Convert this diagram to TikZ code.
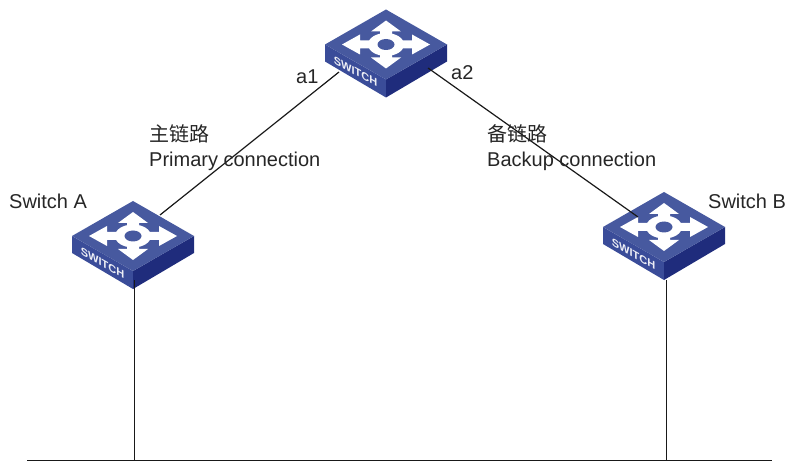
\documentclass[tikz,border=0pt]{standalone}
\usepackage{fontspec}
\setmainfont{Liberation Sans}
\newfontfamily\cjk{Noto Sans CJK SC}[Scale=1.0]
\definecolor{swtop}{HTML}{47599F}
\definecolor{swleft}{HTML}{3A4C99}
\definecolor{swright}{HTML}{1F2C7C}
\definecolor{txtgray}{HTML}{262626}
\tikzset{
  lbl/.style={inner sep=0pt,anchor=west,align=left,text=txtgray,font=\fontsize{20}{25}\selectfont},
  link/.style={draw=black!90,line width=1.2pt},
  switch/.pic={
    \fill[swleft] (-61,0) -- (0,35) -- (0,53) -- (-61,17) -- cycle;
    \fill[swright] (61,0) -- (0,35) -- (0,53) -- (61,17) -- cycle;
    \fill[swtop] (-61,0) -- (0,-35) -- (61,0) -- (0,35) -- cycle;
    \fill[white] (0,-24) -- (-15,-13) -- (-6,-13) -- (-6,-8) -- (6,-8) -- (6,-13) -- (15,-13) -- cycle;
    \fill[white] (0,24) -- (-15,13) -- (-6,13) -- (-6,8) -- (6,8) -- (6,13) -- (15,13) -- cycle;
    \fill[white] (-44,0) -- (-26,-10) -- (-26,-4) -- (-14,-4) -- (-14,4) -- (-26,4) -- (-26,10) -- cycle;
    \fill[white] (44,0) -- (26,-10) -- (26,-4) -- (14,-4) -- (14,4) -- (26,4) -- (26,10) -- cycle;
    \fill[white] (0,0) ellipse (18 and 11.5);
    \fill[swtop] (0,0) ellipse (8.5 and 5.5);
    \node[transform shape,yslant=-0.56,text=white!90!swtop,inner sep=0pt,font=\fontsize{11}{11}\selectfont\bfseries] (-name) at (-30.5,27) {SWITCH};
  }
}
\begin{document}
\begin{tikzpicture}[x=1pt,y=-1pt]
  \useasboundingbox (0,0) rectangle (789,462);

  \coordinate (busl) at (27,460.5);
  \coordinate (busr) at (772,460.5);
  \coordinate (busa) at (134.2,460.5);
  \coordinate (busb) at (666.4,460.5);
  \coordinate (a1end) at (339,72);
  \coordinate (a2end) at (428,68);
  \coordinate (pa) at (160,215);
  \coordinate (pb) at (638,217);
  \coordinate (dropa) at (134.2,280);
  \coordinate (dropb) at (666.4,280);

  \pic (swc) at (386,44.5) {switch};
  \pic (swa) at (133,236) {switch};
  \pic (swb) at (664,227) {switch};

  \draw[link] (busl) -- (busr);
  \draw[link] (a1end) -- (pa);
  \draw[link] (a2end) -- (pb);
  \draw[link] (dropa) -- (busa);
  \draw[link] (dropb) -- (busb);

  \node[lbl] (lbla) at (9,201) {Switch A};
  \node[lbl] (lblb) at (708,201) {Switch B};
  \node[lbl] (lbla1) at (296,77) {a1};
  \node[lbl] (lbla2) at (451,73) {a2};
  \node[lbl] (lblp) at (149,147.5) {{\cjk 主链路}\\Primary connection};
  \node[lbl] (lblq) at (487,147.5) {{\cjk 备链路}\\Backup connection};
\end{tikzpicture}
\end{document}
